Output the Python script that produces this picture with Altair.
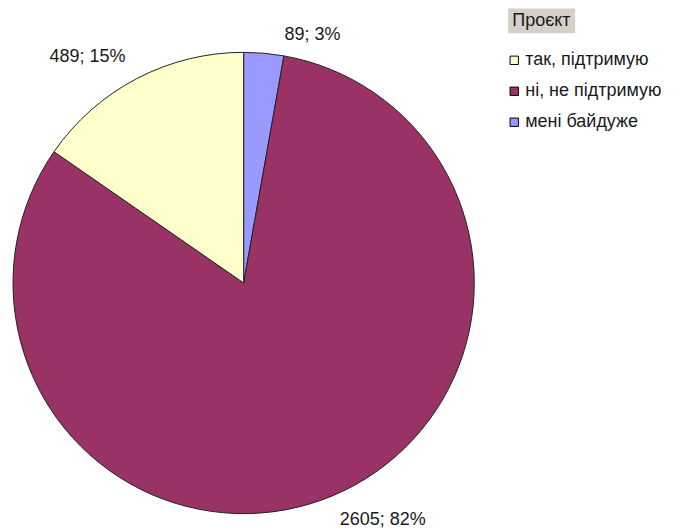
import altair as alt
import pandas as pd

categories = ["мені байдуже", "ні, не підтримую", "так, підтримую"]
counts = [89, 2605, 489]
percents = ["3%", "82%", "15%"]
order = [1, 2, 3]
legend_order = ["так, підтримую", "ні, не підтримую", "мені байдуже"]
colors_by_cat = {"так, підтримую": "#FFFFCC", "ні, не підтримую": "#993366", "мені байдуже": "#9999FF"}

df = pd.DataFrame({
    "cat": categories,
    "count": counts,
    "order": order,
    "label": [f"{c}; {p}" for c, p in zip(counts, percents)],
})

FONT = "Liberation Sans"
FS = 18

base = alt.Chart(df)

pie = base.mark_arc(stroke="#222222", strokeWidth=1).encode(
    theta=alt.Theta("count:Q", stack=True),
    order=alt.Order("order:Q"),
    color=alt.Color(
        "cat:N",
        scale=alt.Scale(domain=legend_order, range=[colors_by_cat[c] for c in legend_order]),
        legend=alt.Legend(
            title=None,
            orient="none",
            legendX=493,
            legendY=-1,
            symbolType="square",
            symbolSize=70,
            symbolStrokeColor="#000000",
            symbolStrokeWidth=1,
            labelFont=FONT,
            labelFontSize=FS,
            labelColor="#1a1a1a",
            rowPadding=13,
            labelOffset=2,
        ),
    ),
)

lab_base = (
    base.transform_joinaggregate(total="sum(count)")
    .transform_window(cum="sum(count)", sort=[alt.SortField("order")])
    .transform_calculate(mid="datum.cum - datum.count / 2")
)

offsets = {
    "мені байдуже": (48, -9),
    "так, підтримую": (-45, -14),
    "ні, не підтримую": (47, 16),
}

label_layers = []
for cat, (dx, dy) in offsets.items():
    label_layers.append(
        lab_base.transform_filter(alt.datum.cat == cat)
        .mark_text(radius=240, dx=dx, dy=dy, font=FONT, fontSize=FS, color="#1a1a1a",
                   align="center", baseline="middle")
        .encode(theta=alt.Theta("mid:Q", stack=None), text="label:N")
    )

title_df = pd.DataFrame({"t": ["Проєкт"]})
title_box = alt.Chart(title_df).mark_rect(color="#D4D0C8").encode(
    x=alt.value(496), x2=alt.value(563), y=alt.value(-44), y2=alt.value(-19)
)
title_text = alt.Chart(title_df).mark_text(
    font=FONT, fontSize=FS, color="#1a1a1a", align="left", baseline="middle"
).encode(x=alt.value(500), y=alt.value(-31), text="t:N")

chart = alt.layer(pie, *label_layers, title_box, title_text).properties(
    width=462, height=462,
    padding={"left": 3, "top": 0, "right": 5, "bottom": 0},
).configure_view(stroke=None)

chart.save("out.html", embed_options={"renderer": "svg", "actions": False})
